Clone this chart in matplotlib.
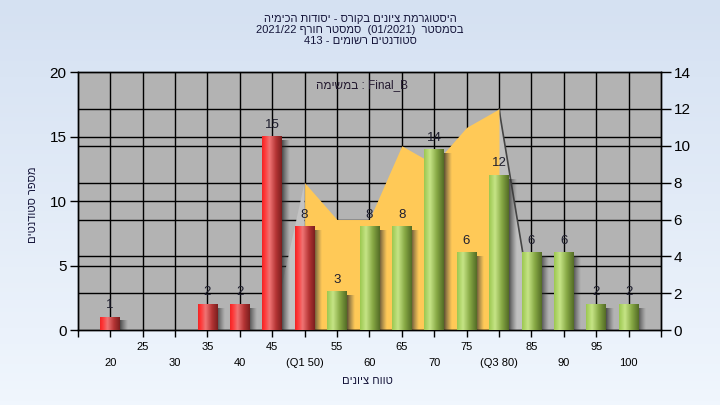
import numpy as np
import matplotlib.pyplot as plt
from matplotlib.colors import LinearSegmentedColormap

plt.rcParams['font.family'] = ['Liberation Sans', 'DejaVu Sans']

# Data
categories = ['20', '25', '30', '35', '40', '45', '50', '55', '60',
              '65', '70', '75', '80', '85', '90', '95', '100']
tick_labels = ['20', '25', '30', '35', '40', '45', '(Q1 50)', '55', '60',
               '65', '70', '75', '(Q3 80)', '85', '90', '95', '100']
counts = [1, 0, 0, 2, 2, 15, 8, 3, 8, 8, 14, 6, 12, 6, 6, 2, 2]
# categories below/at Q1 drawn red, rest green
low_cats = ['20', '25', '30', '35', '40', '45', '50']
# orange area (right axis), between Q1 and Q3
area_cats = ['50', '55', '60', '65', '70', '75', '80']
area_vals = [8, 6, 6, 10, 9, 11, 12]


def rtl(s):
    # matplotlib has no bidi support: hand it the visual order
    return s[::-1]


title = (rtl('היסטוגרמת ציונים בקורס - יסודות הכימיה') + '\n'
         + '2021/22 ' + rtl('סמסטר חורף') + '  (01/2021)  ' + rtl('בסמסטר') + '\n'
         + '413 - ' + rtl('סטודנטים רשומים'))
task_label = rtl('במשימה') + ' : Final_B'
x_title = rtl('טווח ציונים')
y_title = rtl('מספר סטודנטים')

fig = plt.figure(figsize=(7.2, 4.05), dpi=100)

# light blue gradient background
bg = fig.add_axes([0, 0, 1, 1], zorder=-10)
bg.imshow(np.linspace(0, 1, 100).reshape(-1, 1), aspect='auto',
          cmap=LinearSegmentedColormap.from_list('bg', ['#D5E1F2', '#F0F6FD']),
          extent=[0, 1, 0, 1])
bg.axis('off')

ax = fig.add_axes([0.108, 0.185, 0.81, 0.637])
ax2 = ax.twinx()
# area/grid axes underneath, bar axes on top
ax.set_zorder(ax2.get_zorder() + 1)
ax.patch.set_visible(False)
ax2.patch.set_visible(True)
ax2.patch.set_facecolor('#B3B3B3')

x = np.arange(len(categories))
idx = {c: i for i, c in enumerate(categories)}

ax.set_xlim(-1, len(categories))
ax.set_ylim(0, 20)
ax2.set_ylim(0, 14)

# grid: verticals, left-axis and right-axis horizontals, all under the area
for xi in x:
    ax2.axvline(xi, color='black', lw=1, zorder=0)
for v in [5, 10, 15]:
    ax2.plot([0, 1], [v, v], color='black', lw=1, zorder=0,
             transform=ax.get_yaxis_transform())
for v in range(2, 14, 2):
    ax2.axhline(v, color='black', lw=1, zorder=0)

# orange area and its 3d side faces
ax_idx = [idx[c] for c in area_cats]
ax2.fill_between(ax_idx, area_vals, color='#FFC957', lw=0, zorder=2)
ax2.fill([ax_idx[0], ax_idx[0] - 1, ax_idx[0]], [area_vals[0], 0, 0],
         color='#C3C3C3', lw=0, zorder=1)
ax2.fill([ax_idx[-1], ax_idx[-1] + 1.13, ax_idx[-1]], [area_vals[-1], 0, 0],
         color='#C0C0C0', lw=0, zorder=1)
ax2.plot([ax_idx[-1], ax_idx[-1] + 1.13], [area_vals[-1], 0],
         color='#454545', lw=1.2, zorder=1.5)

red_cmap = LinearSegmentedColormap.from_list(
    'red', [(0, '#F02525'), (0.12, '#FF3535'), (0.38, '#EF7474'),
            (0.7, '#B53535'), (1, '#7C1E1E')])
green_cmap = LinearSegmentedColormap.from_list(
    'green', [(0, '#9CC850'), (0.3, '#C6E486'), (0.65, '#86A844'),
              (1, '#546C26')])
shadow_cmap = LinearSegmentedColormap.from_list(
    'sh', [(0, (0.15, 0.15, 0.15, 0.75)), (1, (0.3, 0.3, 0.3, 0.0))])
grad = np.linspace(0, 1, 64).reshape(1, -1)

w = 0.6
for c, n in zip(categories, counts):
    if n == 0:
        continue
    xi = idx[c]
    cmap = red_cmap if c in low_cats else green_cmap
    # drop shadow to the right
    ax.imshow(grad, cmap=shadow_cmap, aspect='auto', zorder=2,
              extent=[xi + w / 2, xi + w / 2 + 0.22, 0, n - 0.3])
    ax.imshow(grad, cmap=cmap, aspect='auto', zorder=3,
              extent=[xi - w / 2, xi + w / 2, 0, n])
    ax.text(xi, n + 0.45, str(n), ha='center', va='bottom', fontsize=9.5,
            color='#1E1E2E', zorder=5)

ax.set_xlim(-1, len(categories))
ax.set_ylim(0, 20)

# axes, ticks
ax.set_yticks(range(0, 21, 5))
ax2.set_yticks(range(0, 15, 2))
ax.set_xticks(np.arange(-1, len(categories) + 1))
ax.set_xticklabels([])
ax.tick_params(axis='y', direction='out', length=6, width=1, labelsize=11, pad=2)
ax2.tick_params(axis='y', direction='out', length=7, width=1, labelsize=11, pad=2)
ax.tick_params(axis='x', direction='out', length=5, width=1)
for a in (ax, ax2):
    for s in a.spines.values():
        s.set_color('black')
        s.set_linewidth(1)

# two staggered rows of category labels
trans = ax.get_xaxis_transform()
for i, lab in enumerate(tick_labels):
    yy = -0.128 if i % 2 == 0 else -0.066
    ax.text(x[i], yy, lab, transform=trans, ha='center', va='center',
            fontsize=8, color='black')

ax.text(0.487, 0.95, task_label, transform=ax.transAxes, ha='center',
        va='center', fontsize=8.5, color='#241a30', zorder=6)

fig.text(0.5, 0.926, title, ha='center', va='center', fontsize=8,
         color='#15153a', linespacing=1.12)
fig.text(0.51, 0.06, x_title, ha='center', va='center', fontsize=8,
         color='#15153a')
fig.text(0.046, 0.495, y_title, ha='center', va='center', fontsize=8,
         rotation=90, color='#15153a')

fig.savefig('out.png', dpi=100)
